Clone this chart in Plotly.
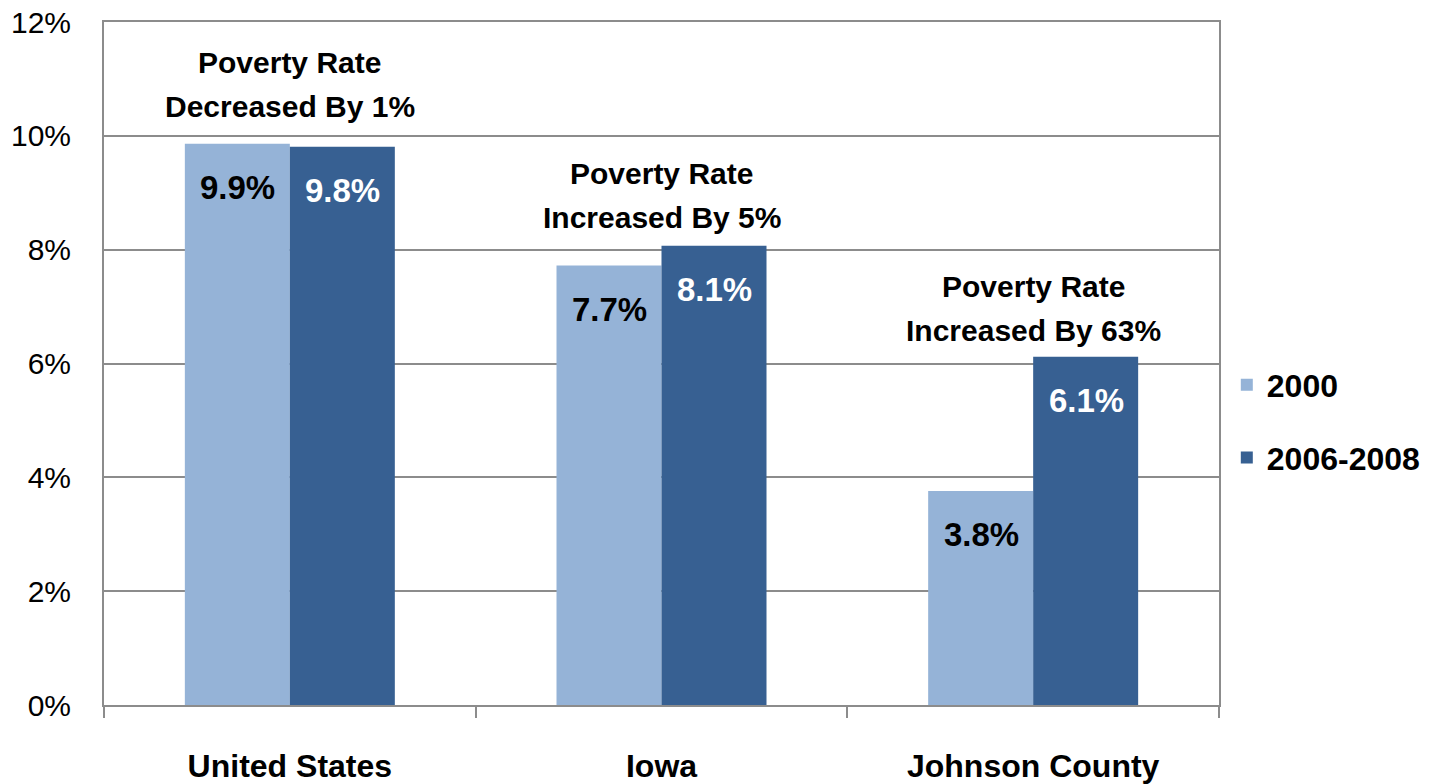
import plotly.graph_objects as go

categories = ["United States", "Iowa", "Johnson County"]
series_names = ["2000", "2006-2008"]
values_2000 = [9.86, 7.72, 3.76]
values_2008 = [9.81, 8.07, 6.12]
labels_2000 = ["9.9%", "7.7%", "3.8%"]
labels_2008 = ["9.8%", "8.1%", "6.1%"]
note_line1 = ["Poverty Rate", "Poverty Rate", "Poverty Rate"]
note_line2 = ["Decreased By 1%", "Increased By 5%", "Increased By 63%"]
note_y = [10.91, 8.96, 6.96]
tick_vals = [0, 2, 4, 6, 8, 10, 12]
tick_text = ["0%", "2%", "4%", "6%", "8%", "10%", "12%"]

colors = ["#95B3D7", "#376092"]
FONT = "Liberation Sans Narrow, Liberation Sans, Arial Narrow, sans-serif"

fig = go.Figure()
fig.add_trace(go.Bar(x=categories, y=values_2000, name=series_names[0],
                     marker=dict(color=colors[0], line=dict(width=0)),
                     legendgroup="a"))
fig.add_trace(go.Bar(x=categories, y=values_2008, name=series_names[1],
                     marker=dict(color=colors[1], line=dict(width=0)),
                     legendgroup="b"))

annotations = []
for i, c in enumerate(categories):
    annotations.append(dict(x=c, y=values_2000[i], text="<b>%s</b>" % labels_2000[i],
                            xref="x", yref="y", showarrow=False, xshift=-52, yshift=-44,
                            font=dict(family=FONT, size=33, color="#000000")))
    annotations.append(dict(x=c, y=values_2008[i], text="<b>%s</b>" % labels_2008[i],
                            xref="x", yref="y", showarrow=False, xshift=53, yshift=-44,
                            font=dict(family=FONT, size=33, color="#FFFFFF")))
    annotations.append(dict(x=c, y=note_y[i], text="<b>%s</b>" % note_line1[i],
                            xref="x", yref="y", showarrow=False, yshift=22,
                            font=dict(family=FONT, size=30, color="#000000")))
    annotations.append(dict(x=c, y=note_y[i], text="<b>%s</b>" % note_line2[i],
                            xref="x", yref="y", showarrow=False, yshift=-22,
                            font=dict(family=FONT, size=30, color="#000000")))

fig.update_layout(
    width=1441, height=784,
    margin=dict(l=104, r=222, t=22, b=79),
    paper_bgcolor="white", plot_bgcolor="white",
    barmode="group", bargap=0.435, bargroupgap=0,
    font=dict(family=FONT, size=32, color="#000000"),
    legend=dict(x=1.007, y=0.415, xanchor="left", yanchor="middle",
                font=dict(family=FONT, size=32, color="#000000", weight="bold"),
                tracegroupgap=28, bgcolor="rgba(0,0,0,0)"),
    annotations=annotations,
    showlegend=True,
)
fig.update_xaxes(
    automargin=False,
    showline=True, linecolor="#8C8C8C", linewidth=2, mirror=True,
    ticks="outside", tickson="boundaries", ticklen=11, tickcolor="#8C8C8C", tickwidth=2,
    tickfont=dict(family=FONT, size=32, color="#000000", weight="bold"),
    showgrid=False, ticklabelstandoff=32,
)
fig.update_yaxes(
    automargin=False,
    range=[0, 12], tickvals=tick_vals, ticktext=tick_text,
    showline=True, linecolor="#8C8C8C", linewidth=2, mirror=True,
    showgrid=True, gridcolor="#8C8C8C", gridwidth=2,
    ticks="", tickfont=dict(family=FONT, size=30, color="#000000"),
    ticklabelstandoff=25, zeroline=False,
)

fig.write_html("out.html", config={"displayModeBar": False},
               post_script="document.body.style.margin='0';")
